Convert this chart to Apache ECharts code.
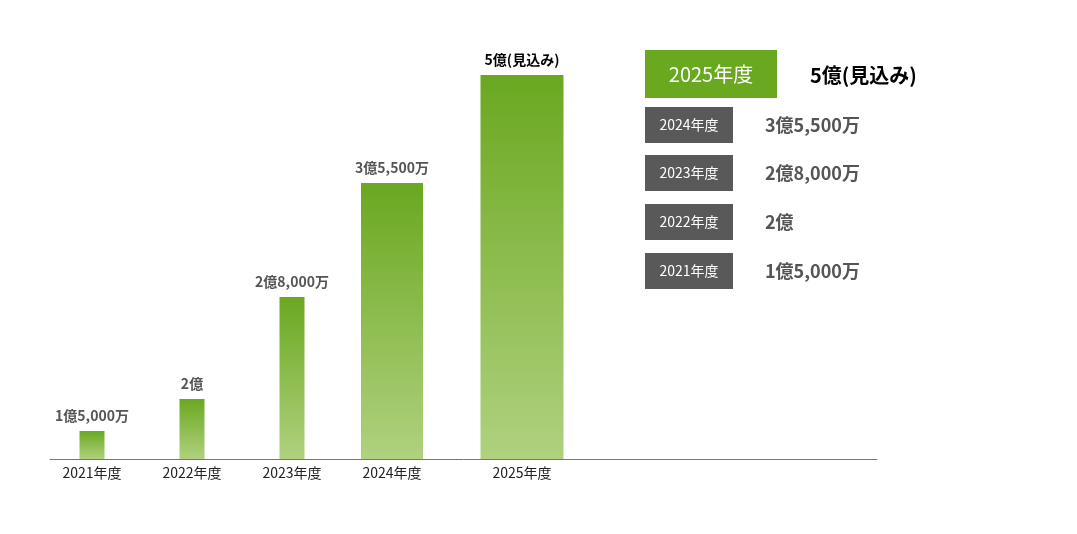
<!DOCTYPE html><html><head><meta charset="utf-8"><script src="https://cdn.jsdelivr.net/npm/echarts@6/dist/echarts.min.js"></script>
<style>body{margin:0}#c{width:1077px;height:534px}</style></head><body><div id="c"></div><script>
const categories=['2021年度','2022年度','2023年度','2024年度','2025年度'];
const valueLabels=['1億5,000万','2億','2億8,000万','3億5,500万','5億(見込み)'];
const barHeights=[28,60,162,276,384];
const legendYears=['2024年度','2023年度','2022年度','2021年度'];
const legendValues=['3億5,500万','2億8,000万','2億','1億5,000万'];
// layout (pixel style, not data)
const centers=[42,142,242,342,472], widths=[25,25,25,62,83];
const F='"Noto Sans CJK JP","Noto Sans",sans-serif';
const ch=echarts.init(document.getElementById('c'));
const graphic=[
 {type:'rect',shape:{x:645,y:50,width:132,height:48},style:{fill:'#6aa820'}},
 {type:'text',x:711,y:74,style:{text:'2025年度',fill:'#fff',font:'20px '+F,align:'center',verticalAlign:'middle'}},
 {type:'text',x:810,y:75,style:{text:'5億(見込み)',fill:'#000',font:'bold 20px '+F,verticalAlign:'middle'}}];
const ys=[107,155,204,253];
legendYears.forEach((t,i)=>{graphic.push(
 {type:'rect',shape:{x:645,y:ys[i],width:88,height:36},style:{fill:'#595959'}},
 {type:'text',x:689,y:ys[i]+18,style:{text:t,fill:'#fff',font:'14px '+F,align:'center',verticalAlign:'middle'}},
 {type:'text',x:765,y:ys[i]+18,style:{text:legendValues[i],fill:'#555',font:'bold 18px '+F,verticalAlign:'middle'}});});
ch.setOption({animation:false,graphic,
 grid:{left:50,width:827,bottom:75,height:400},
 xAxis:{type:'value',min:0,max:827,splitLine:{show:false},axisTick:{show:false},axisLabel:{show:false},axisLine:{show:true,onZero:false,lineStyle:{color:'#777'}}},
 yAxis:{type:'value',min:0,max:400,show:false},
 series:[{type:'custom',data:barHeights.map((h,i)=>[i,h]),
  renderItem(p,api){const i=api.value(0),h=api.value(1);
   const base=api.coord([centers[i],0]),top=api.coord([centers[i],h]);const w=widths[i];
   return {type:'group',children:[
    {type:'rect',shape:{x:base[0]-w/2,y:top[1],width:w,height:base[1]-top[1]},style:{fill:new echarts.graphic.LinearGradient(0,0,0,1,[{offset:0,color:'#6aa820'},{offset:1,color:'#b0d17f'}])}},
    {type:'text',x:base[0],y:top[1]-8,style:{text:valueLabels[i],fill:i==4?'#000':'#555',font:'bold 14px '+F,align:'center',verticalAlign:'bottom'}},
    {type:'text',x:base[0],y:base[1]+14,style:{text:categories[i],fill:'#222',font:'14px '+F,align:'center',verticalAlign:'middle'}}]};}}]});
</script></body></html>
